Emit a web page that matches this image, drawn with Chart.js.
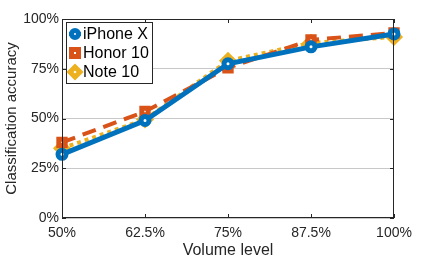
<!DOCTYPE html>
<html>
<head>
<meta charset="utf-8">
<script src="https://cdn.jsdelivr.net/npm/chart.js@4.4.1/dist/chart.umd.min.js"></script>
<style>
  html, body { margin: 0; padding: 0; background: #fff; }
  #wrap { width: 436px; height: 260px; }
</style>
</head>
<body>
<div id="wrap"><canvas id="myChart" width="436" height="260"></canvas></div>
<script>
// volume levels on the x axis
const volumeLabels = ['50%', '62.5%', '75%', '87.5%', '100%'];
const yTicks = [0, 25, 50, 75, 100];

// classification accuracy (%) per phone
const iphoneX = [32, 49, 77.5, 86, 92.5];
const honor10 = [38, 53.5, 75.5, 89.5, 93];
const note10 = [35, 49.5, 79, 88, 91];

const FONT = "'Liberation Sans', Arial, sans-serif";
const AXIS = '#262626';

// box, inward ticks and legend in the MATLAB style
const matlabBox = {
  id: 'matlabBox',
  afterDraw(chart) {
    const ctx = chart.ctx;
    const a = chart.chartArea;
    const xs = chart.scales.x;
    const ys = chart.scales.y;
    ctx.save();
    ctx.strokeStyle = AXIS;
    ctx.lineWidth = 1;
    ctx.strokeRect(a.left + 0.5, a.top + 0.5, a.right - a.left - 1, a.bottom - a.top - 1);
    ctx.beginPath();
    for (let i = 0; i < volumeLabels.length; i++) {
      const x = Math.round(xs.getPixelForValue(i)) + 0.5;
      ctx.moveTo(x, a.bottom); ctx.lineTo(x, a.bottom - 4);
      ctx.moveTo(x, a.top); ctx.lineTo(x, a.top + 4);
    }
    yTicks.forEach(v => {
      const y = Math.round(ys.getPixelForValue(v)) + 0.5;
      ctx.moveTo(a.left, y); ctx.lineTo(a.left + 4, y);
      ctx.moveTo(a.right, y); ctx.lineTo(a.right - 4, y);
    });
    ctx.stroke();

    // legend
    const lx = a.left + 4, ly = a.top + 3, lw = 86, rowH = 19;
    const sets = chart.data.datasets;
    ctx.fillStyle = '#fff';
    ctx.fillRect(lx, ly, lw, rowH * sets.length + 4);
    ctx.strokeStyle = AXIS;
    ctx.strokeRect(lx + 0.5, ly + 0.5, lw, rowH * sets.length + 4);
    ctx.font = '16px ' + FONT;
    ctx.textBaseline = 'middle';
    sets.forEach((ds, i) => {
      const cy = ly + 12 + i * rowH;
      const cx = lx + 9;
      ctx.strokeStyle = ds.borderColor;
      ctx.lineWidth = 4;
      ctx.beginPath();
      ctx.moveTo(cx - 6, cy); ctx.lineTo(cx + 6, cy);
      ctx.stroke();
      ctx.fillStyle = '#fff';
      ctx.lineWidth = 5;
      ctx.beginPath();
      if (ds.pointStyle === 'circle') {
        ctx.arc(cx, cy, 3.5, 0, Math.PI * 2);
      } else if (ds.pointStyle === 'rect') {
        ctx.rect(cx - 3.5, cy - 3.5, 7, 7);
      } else {
        ctx.moveTo(cx, cy - 5); ctx.lineTo(cx + 5, cy); ctx.lineTo(cx, cy + 5); ctx.lineTo(cx - 5, cy); ctx.closePath();
      }
      ctx.fill();
      ctx.stroke();
      ctx.fillStyle = '#000';
      ctx.fillText(ds.label, cx + 8, cy + 1);
    });
    ctx.restore();
  }
};

const ctx = document.getElementById('myChart').getContext('2d');
new Chart(ctx, {
  type: 'line',
  data: {
    labels: volumeLabels,
    datasets: [
      {
        label: 'iPhone X',
        data: iphoneX,
        borderColor: '#0072BD',
        backgroundColor: '#fff',
        borderWidth: 5,
        pointStyle: 'circle',
        pointRadius: 4,
        pointBorderWidth: 5,
        tension: 0
      },
      {
        label: 'Honor 10',
        data: honor10,
        borderColor: '#D95319',
        backgroundColor: '#fff',
        borderWidth: 4,
        borderDash: [14, 8],
        pointStyle: 'rect',
        pointRadius: 4.5,
        pointBorderWidth: 5,
        tension: 0
      },
      {
        label: 'Note 10',
        data: note10,
        borderColor: '#EDB120',
        backgroundColor: '#fff',
        borderWidth: 4,
        borderDash: [4, 4],
        pointStyle: 'rectRot',
        pointRadius: 5.5,
        pointBorderWidth: 5,
        tension: 0
      }
    ]
  },
  options: {
    responsive: false,
    animation: false,
    layout: { padding: { top: 19, right: 42, left: 0, bottom: 0 } },
    plugins: {
      legend: { display: false },
      tooltip: { enabled: false }
    },
    scales: {
      x: {
        offset: false,
        grid: { display: false, drawTicks: false },
        border: { display: false },
        ticks: { color: AXIS, padding: 7, font: { family: FONT, size: 14 }, maxRotation: 0, autoSkip: false },
        title: { display: true, text: 'Volume level', color: AXIS, padding: { top: 0, bottom: 0 }, font: { family: FONT, size: 16 } },
        afterFit(scale) { scale.height = 42; }
      },
      y: {
        min: 0,
        max: 100,
        afterBuildTicks(scale) { scale.ticks = yTicks.map(v => ({ value: v })); },
        grid: { color: '#c8c8c8', lineWidth: 1, drawTicks: false },
        border: { display: false },
        ticks: {
          color: AXIS,
          padding: 3,
          font: { family: FONT, size: 14 },
          callback: v => v + '%'
        },
        title: { display: true, text: 'Classification accuracy', color: AXIS, padding: { top: 3, bottom: 0 }, font: { family: FONT, size: 15 } },
        afterFit(scale) { scale.width = 62; }
      }
    }
  },
  plugins: [matlabBox]
});
</script>
</body>
</html>
